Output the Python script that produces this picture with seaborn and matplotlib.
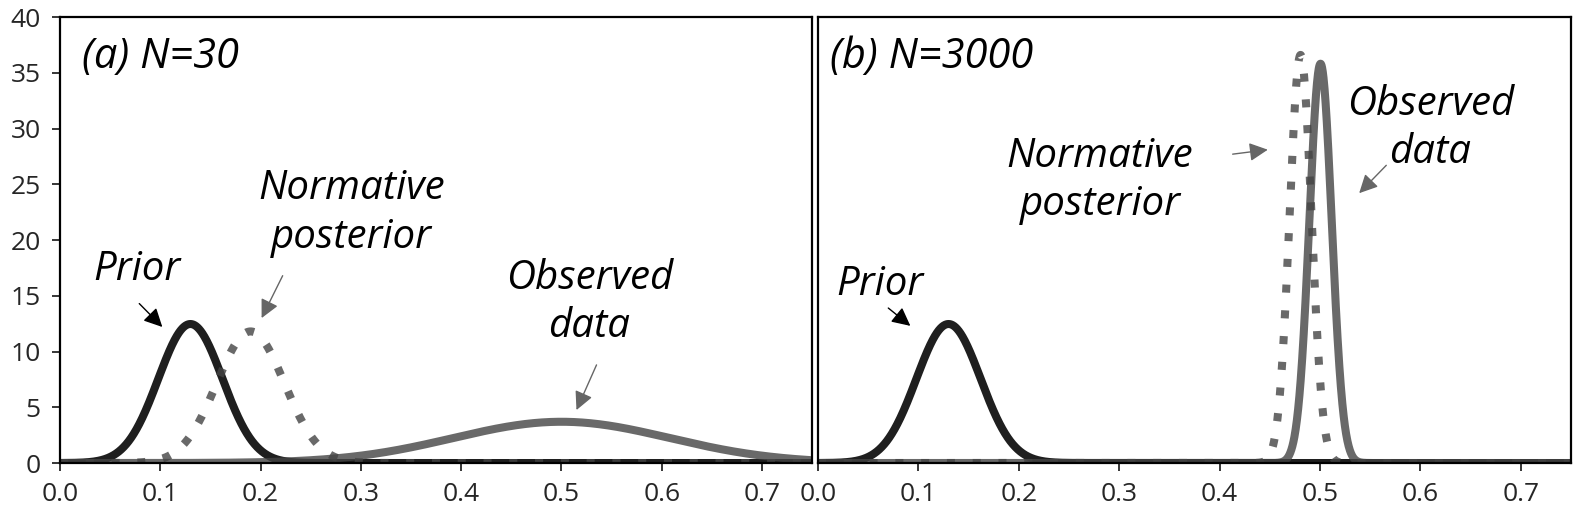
import numpy as np
import pandas as pd
import matplotlib
matplotlib.use('Agg')
import matplotlib.pyplot as plt
import seaborn as sns

# peak location and spread of each curve
panels = ['(a) N=30', '(b) N=3000']
curves = ['Prior', 'Normative posterior', 'Observed data']
means_a = [0.130, 0.190, 0.500]
sds_a = [0.0320, 0.0338, 0.1078]
means_b = [0.130, 0.4806, 0.5005]
sds_b = [0.0320, 0.0109, 0.01114]
x_ticks = [0.0, 0.1, 0.2, 0.3, 0.4, 0.5, 0.6, 0.7]
y_ticks = [0, 5, 10, 15, 20, 25, 30, 35, 40]

x = np.linspace(0, 0.75, 3001)

def density(mu, sd):
    return np.exp(-0.5 * ((x - mu) / sd) ** 2) / (sd * np.sqrt(2 * np.pi))

rows = []
for panel, means, sds in [(panels[0], means_a, sds_a), (panels[1], means_b, sds_b)]:
    for name, mu, sd in zip(curves, means, sds):
        rows.append(pd.DataFrame({'panel': panel, 'curve': name, 'x': x, 'y': density(mu, sd)}))
df = pd.concat(rows, ignore_index=True)

sns.set_style('ticks')
plt.rcParams['font.family'] = ['Open Sans', 'DejaVu Sans']

styles = {
    'Prior': dict(color='#000000', alpha=0.88, ls='-'),
    'Normative posterior': dict(color='#444444', alpha=0.8, ls=(0, (1, 2.2))),
    'Observed data': dict(color='#444444', alpha=0.8, ls='-'),
}

fig = plt.figure(figsize=(15.93, 5.17), dpi=100)
ax_a = fig.add_axes([0.0377, 0.1044, 0.4721, 0.8627])
ax_b = fig.add_axes([0.5135, 0.1044, 0.4727, 0.8627])

label_font = dict(family='Open Sans', style='italic', fontweight='normal', fontsize=29, color='black')

for ax, panel in zip([ax_a, ax_b], panels):
    sub = df[df['panel'] == panel]
    for name in curves:
        st = styles[name]
        d = sub[sub['curve'] == name]
        sns.lineplot(data=d, x='x', y='y', ax=ax, color=st['color'], alpha=st['alpha'],
                     lw=5.8, linestyle=st['ls'], solid_capstyle='round', dash_capstyle='butt')
    ax.set_xlim(0, 0.75)
    ax.set_ylim(0, 40)
    ax.set_xticks(x_ticks)
    ax.set_xticklabels([f'{t:.1f}' for t in x_ticks])
    ax.set_xlabel('')
    ax.set_ylabel('')
    for s in ax.spines.values():
        s.set_linewidth(1.6)
        s.set_color('black')
    ax.tick_params(axis='both', labelsize=19, length=6, width=1.3, direction='out', pad=8)
    ax.text(0.022 if ax is ax_a else 0.012, 36.4, panel, ha='left', va='center',
            **dict(label_font, fontsize=30))

ax_a.set_yticks(y_ticks)
ax_b.set_yticks([])

def note(ax, text, xy_text, xy_tip, xy_tail, color):
    ax.text(*xy_text, text, ha='center', va='center', linespacing=1.25, **label_font)
    ax.annotate('', xy=xy_tip, xytext=xy_tail,
                arrowprops=dict(arrowstyle='-|>', mutation_scale=28, lw=1.0,
                                color=color, shrinkA=0, shrinkB=0))

note(ax_a, 'Prior', (0.077, 17.3), (0.102, 12.2), (0.079, 14.3), 'black')
note(ax_a, 'Normative\nposterior', (0.291, 22.4), (0.201, 13.0), (0.222, 16.8), '#666666')
note(ax_a, 'Observed\ndata', (0.528, 14.4), (0.515, 4.75), (0.535, 8.8), '#666666')

note(ax_b, 'Prior', (0.062, 16.0), (0.092, 12.3), (0.070, 13.9), 'black')
note(ax_b, 'Normative\nposterior', (0.281, 25.3), (0.448, 28.1), (0.413, 27.7), '#666666')
note(ax_b, 'Observed\ndata', (0.610, 30.0), (0.539, 24.2), (0.566, 26.7), '#666666')

fig.savefig('out.png', dpi=100)
